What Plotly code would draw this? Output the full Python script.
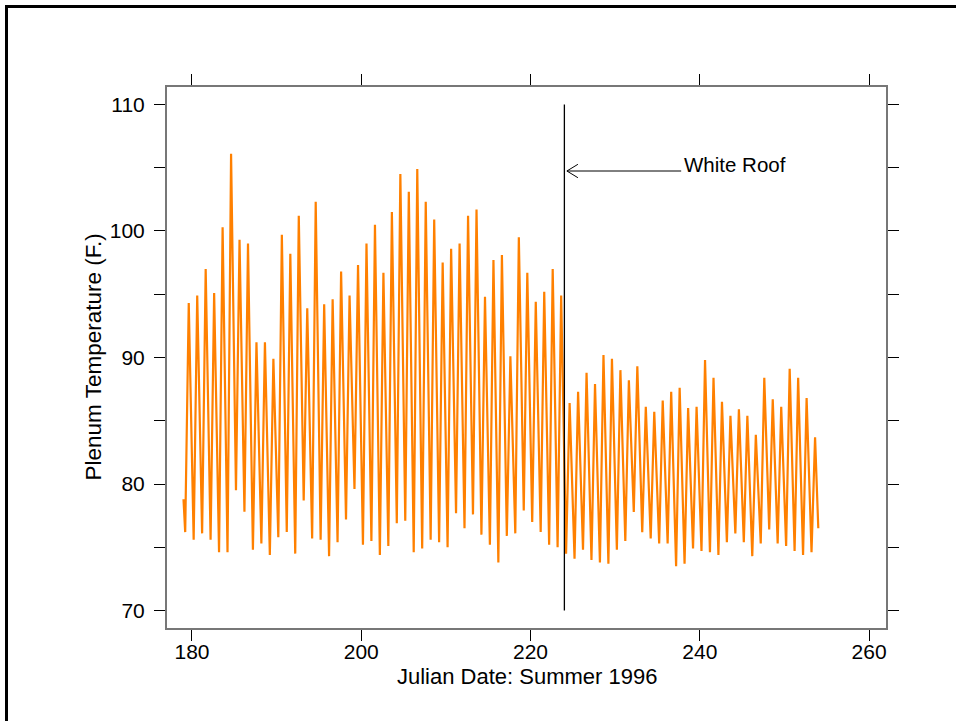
import plotly.graph_objects as go

# ---- data ----
days = list(range(179, 254))  # one diurnal cycle per Julian day
# daily minimum (early morning) plenum temperature, deg F
trough_temps = [76.2, 75.6, 76.1, 75.6, 74.6, 74.6, 79.5, 77.8, 74.8, 75.3,
                74.4, 75.8, 76.2, 74.5, 78.7, 75.7, 75.6, 74.3, 75.4, 77.2,
                79.6, 75.2, 75.5, 74.4, 75.1, 76.9, 77.1, 74.6, 74.9, 75.6,
                75.4, 75.0, 77.7, 76.5, 77.6, 76.0, 75.2, 73.8, 75.9, 76.1,
                77.9, 77.0, 76.2, 75.2, 75.0, 74.5, 74.1, 74.8, 74.0, 73.8,
                73.7, 74.8, 75.5, 77.8, 76.2, 75.7, 75.3, 75.3, 73.5, 73.7,
                74.9, 74.7, 74.6, 74.4, 75.4, 76.1, 75.4, 74.3, 75.3, 76.4,
                75.3, 75.1, 74.7, 74.4, 74.6]
# daily maximum (afternoon) plenum temperature, deg F
peak_temps = [94.3, 94.9, 97.0, 95.1, 100.3, 106.1, 99.3, 99.0, 91.2, 91.2,
              89.9, 99.7, 98.2, 101.2, 93.9, 102.3, 94.2, 94.6, 96.8, 94.9,
              97.3, 99.0, 100.5, 96.7, 101.5, 104.5, 103.1, 104.9, 102.3, 100.9,
              97.5, 98.6, 99.0, 101.2, 101.7, 94.8, 97.7, 98.1, 90.1, 99.5,
              96.7, 94.4, 95.2, 97.0, 94.9, 86.4, 87.3, 88.8, 87.9, 90.2,
              89.9, 89.0, 88.2, 89.3, 86.1, 85.7, 86.6, 87.3, 87.6, 86.0,
              86.1, 89.8, 88.4, 86.5, 85.4, 85.9, 85.4, 83.9, 88.4, 86.7,
              86.1, 89.1, 88.4, 86.8, 83.7]
series_start = (179.0, 78.8)
series_end = (254.0, 76.5)
trough_phase = 0.2   # fraction of day of the morning minimum
peak_phase = 0.62    # fraction of day of the afternoon maximum

white_roof_day = 224.0
xticks = [180, 200, 220, 240, 260]
yticks = [70, 75, 80, 85, 90, 95, 100, 105, 110]
yticklabels = ["70", "", "80", "", "90", "", "100", "", "110"]

# ---- build the series ----
xs = [series_start[0]]
ys = [series_start[1]]
for d, lo, hi in zip(days, trough_temps, peak_temps):
    xs += [d + trough_phase, d + peak_phase]
    ys += [lo, hi]
xs.append(series_end[0])
ys.append(series_end[1])

FONT = "Liberation Sans, Arial, sans-serif"

fig = go.Figure()
fig.add_trace(go.Scatter(x=xs, y=ys, mode="lines",
                         line=dict(color="#ff8000", width=2.2),
                         showlegend=False, hoverinfo="skip"))

# vertical marker line
fig.add_shape(type="line", xref="x", yref="y", x0=white_roof_day, x1=white_roof_day,
              y0=70, y1=110, line=dict(color="black", width=1.3))

# open arrow pointing at the line
ay = 104.74
ax0, ax1 = 224.3, 237.8
fig.add_shape(type="line", xref="x", yref="y", x0=ax0, x1=ax1, y0=ay, y1=ay,
              line=dict(color="black", width=1))
fig.add_shape(type="line", xref="x", yref="y", x0=ax0, x1=ax0 + 1.3, y0=ay, y1=ay + 0.53,
              line=dict(color="black", width=1))
fig.add_shape(type="line", xref="x", yref="y", x0=ax0, x1=ax0 + 1.3, y0=ay, y1=ay - 0.53,
              line=dict(color="black", width=1))
fig.add_annotation(x=237.9, y=105.22, xref="x", yref="y", text="White Roof",
                   showarrow=False, xanchor="left", yanchor="middle",
                   font=dict(family=FONT, size=20.5, color="black"))

# geometry helpers (pixel -> paper)
W, H = 956, 721
L, R, T, B = 167, 70, 87, 93
pw, ph = W - L - R, H - T - B
def px(xp):
    return (xp - L) / pw
def py(yp):
    return (H - B - yp) / ph

# outer page frame (top and left edges)
fig.add_shape(type="line", xref="paper", yref="paper", x0=px(5), x1=px(960),
              y0=py(6.5), y1=py(6.5), line=dict(color="black", width=3))
fig.add_shape(type="line", xref="paper", yref="paper", x0=px(6.5), x1=px(6.5),
              y0=py(5), y1=py(725), line=dict(color="black", width=3))

# axis titles as annotations for exact placement
fig.add_annotation(xref="paper", yref="paper", x=px(527), y=py(676),
                   text="Julian Date: Summer 1996", showarrow=False,
                   xanchor="center", yanchor="middle",
                   font=dict(family=FONT, size=22, color="black"))
fig.add_annotation(xref="paper", yref="paper", x=px(93), y=py(357.5),
                   text="Plenum Temperature (F.)", showarrow=False, textangle=-90,
                   xanchor="center", yanchor="middle",
                   font=dict(family=FONT, size=22.5, color="black"))

fig.update_layout(
    width=W, height=H,
    margin=dict(l=L, r=R, t=T, b=B, pad=0),
    paper_bgcolor="white", plot_bgcolor="white",
    font=dict(family=FONT, size=21, color="black"),
    xaxis=dict(range=[177.05, 262.0], tickvals=xticks, ticks="outside", ticklen=11,
               tickcolor="black", tickwidth=1, showline=True, linecolor="#777777",
               linewidth=2, mirror="ticks", showgrid=False, zeroline=False,
               ticklabelstandoff=-7,
               tickfont=dict(family=FONT, size=21)),
    yaxis=dict(range=[68.62, 111.38], tickvals=yticks, ticktext=yticklabels,
               ticks="outside", ticklen=11, tickcolor="black", tickwidth=1,
               showline=True, linecolor="#777777", linewidth=2, mirror="ticks",
               showgrid=False, zeroline=False, ticklabelstandoff=5,
               tickfont=dict(family=FONT, size=21)),
)

fig.write_html("out.html", config={"displayModeBar": False},
               post_script="document.body.style.margin='0';document.body.style.padding='0';")
